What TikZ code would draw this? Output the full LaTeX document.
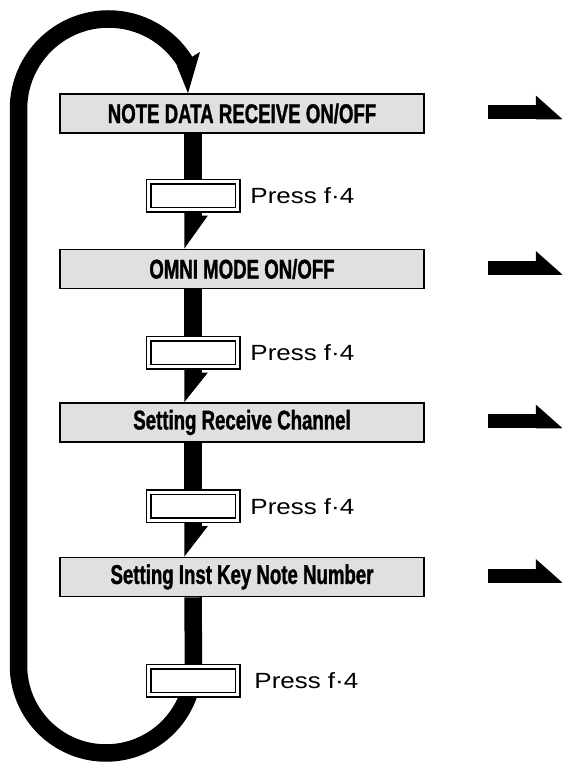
\documentclass[tikz,border=0pt]{standalone}
\usepackage{fontspec}
\setmainfont{Liberation Sans}
\newfontfamily\modefont[FakeStretch=0.69,BoldFeatures={FakeBold=1.2}]{Liberation Sans}
\newfontfamily\pressfont[FakeStretch=1.18]{Liberation Sans}
\usetikzlibrary{positioning,calc,backgrounds}

\tikzset{
  modebox/.style={draw,line width=1.6pt,fill=black!12,minimum width=364pt,minimum height=39pt,inner sep=0pt,
    font=\modefont\bfseries\fontsize{27}{27}\selectfont},
  keybox/.style={draw,line width=1.5pt,double=white,double distance=3pt,fill=white,
    minimum width=89pt,minimum height=28pt,inner sep=0pt},
  presslabel/.style={anchor=west,inner sep=0pt,font=\pressfont\fontsize{22}{22}\selectfont},
  flow/.style={line width=17.5pt},
}

\begin{document}
\begin{tikzpicture}[x=1pt,y=1pt]
\useasboundingbox (0,0) rectangle (562,763);
\node[modebox] (n1) at (242,649.5) {NOTE DATA RECEIVE ON/OFF};
\node[modebox] (n2) at (242,494) {OMNI MODE ON/OFF};
\node[modebox] (n3) at (242,340.5) {Setting Receive Channel};
\node[modebox] (n4) at (242,186) {Setting Inst Key Note Number};
\node[keybox] (k1) at (193,567) {};
\node[keybox] (k2) at (193,410) {};
\node[keybox] (k3) at (193,256.5) {};
\node[keybox] (k4) at (193,82) {};
\node[presslabel,right=12pt of k1] (p1) {Press f·4};
\node[presslabel,right=12pt of k2] (p2) {Press f·4};
\node[presslabel,right=12pt of k3] (p3) {Press f·4};
\node[presslabel,right=16pt of k4] (p4) {Press f·4};
\coordinate (looptip) at ([xshift=-54pt]n1.north);
\begin{scope}[on background layer]
\foreach \a/\b/\c in {n1/k1/n2,n2/k2/n3,n3/k3/n4}{
  \draw[flow] (\a.south -| \b) -- (\b.north);
  \fill ($(\b.south)+(-8.75,0)$) -- ++(17.5,0) -- ++(0,-5) -- ++(6,0)
    -- ($(\b.south |- \c.north)+(-8.75,0)$) -- cycle;
}
\draw[flow] (n4.south -| k4) -- (193.5,97.5) arc[start angle=0,end angle=-180,radius=87.5]
  -- (18.5,654) arc[start angle=180,end angle=31.7,radius=90];
\end{scope}
\fill (177,697) -- (200,711) -- (looptip) -- cycle;
\foreach \n in {n1,n2,n3,n4}{
  \fill ([shift={(63,-6)}]\n.east) rectangle ++(48,14);
  \fill ([shift={(111,-6)}]\n.east) -- ++(0,24) -- ++(27,-24) -- cycle;
}
\end{tikzpicture}
\end{document}
